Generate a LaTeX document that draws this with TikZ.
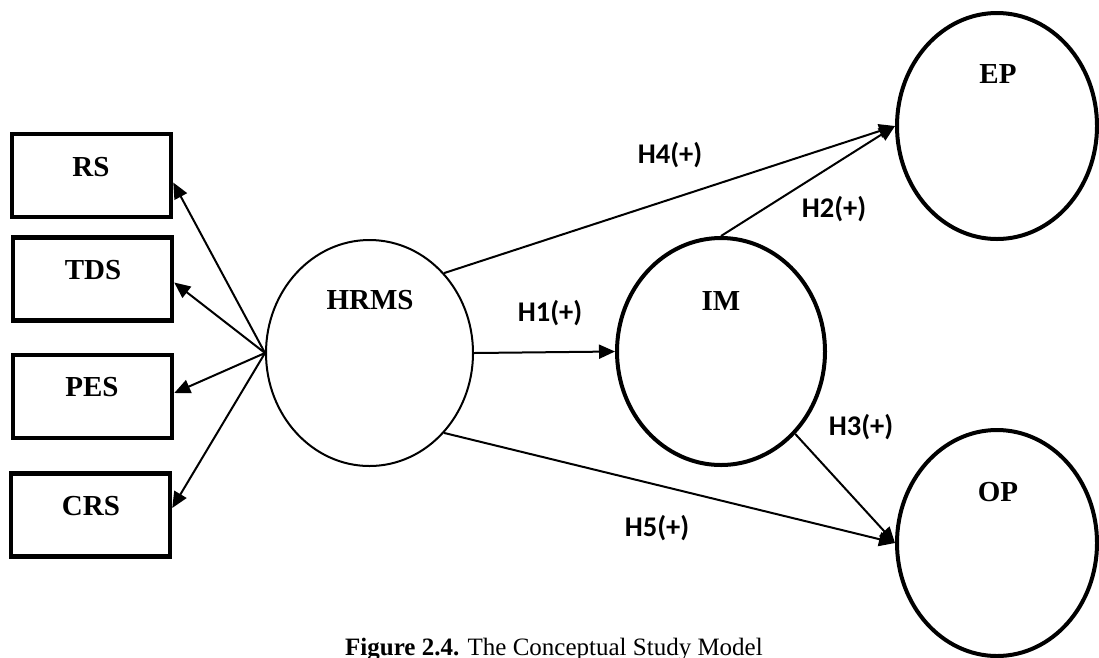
\documentclass[tikz,border=0pt]{standalone}
\usepackage{fontspec}
\setmainfont{Liberation Serif}
\newfontfamily\hypfont{Carlito}
\usetikzlibrary{shapes.geometric,arrows.meta,calc}

\begin{document}
\begin{tikzpicture}[x=1pt,y=-1pt,
  construct/.style={draw, line width=4.5pt, minimum width=159pt, minimum height=83pt, inner sep=0pt},
  latent/.style={draw, ellipse, line width=4pt, inner sep=0pt},
  thinlatent/.style={draw, ellipse, line width=2pt, inner sep=0pt},
  vname/.style={font=\fontsize{29}{29}\selectfont\bfseries, anchor=base, inner sep=0pt},
  hyp/.style={font=\hypfont\fontsize{28.5}{28.5}\selectfont\bfseries, anchor=base, inner sep=0pt},
  relation/.style={line width=2pt, -{Triangle[length=16pt,width=14pt]}}]
\useasboundingbox (0,0) rectangle (1099,657);

% dimension boxes
\node[construct] (rs)  at (91.5,175.5) {};
\node[construct] (tds) at (92.5,279) {};
\node[construct] (pes) at (92.5,396.5) {};
\node[construct] (crs) at (90.5,515) {};
\node[vname] (rst)  at (91,176) {RS};
\node[vname] (tdst) at (93,279) {TDS};
\node[vname] (pest) at (92,396) {PES};
\node[vname] (crst) at (91,515) {CRS};

% latent constructs
\node[thinlatent, minimum width=207pt, minimum height=226pt] (hrms) at (369.5,353) {};
\node[latent, minimum width=208pt, minimum height=227pt] (im) at (721,351.5) {};
\node[latent, minimum width=200pt, minimum height=226pt] (ep) at (997,126) {};
\node[latent, minimum width=200pt, minimum height=226pt] (op) at (997,543) {};
\node[vname] (hrmst) at (370,309) {HRMS};
\node[vname] (imt)   at (721,310) {IM};
\node[vname] (ept)   at (998,83) {EP};
\node[vname] (opt)   at (998,501) {OP};

% HRMS dimensions
\draw[relation] (hrms.west) -- ($(rs.north east)!0.58!(rs.south east)$);
\draw[relation] (hrms.west) -- ($(tds.north east)!0.54!(tds.south east)$);
\draw[relation] (hrms.west) -- ($(pes.north east)!0.46!(pes.south east)$);
\draw[relation] (hrms.west) -- ($(crs.north east)!0.42!(crs.south east)$);

% hypothesised paths
\draw[relation] (hrms.east) -- (im.west);
\draw[relation] (hrms.47) -- (ep.west);
\draw[relation] (im.north) -- (ep.west);
\draw[relation] (im.-48) -- (op.west);
\draw[relation] (hrms.-47) -- (op.west);

\node[hyp] (h1) at (550,321) {H1(+)};
\node[hyp] (h4) at (670,163) {H4(+)};
\node[hyp] (h2) at (834,217) {H2(+)};
\node[hyp] (h3) at (861,435) {H3(+)};
\node[hyp] (h5) at (657,536) {H5(+)};

% caption
\node[anchor=base west, inner sep=0pt, font=\fontsize{25}{25}\selectfont] (caption) at (345,655) {\textbf{Figure 2.4.} The Conceptual Study Model};
\end{tikzpicture}
\end{document}
